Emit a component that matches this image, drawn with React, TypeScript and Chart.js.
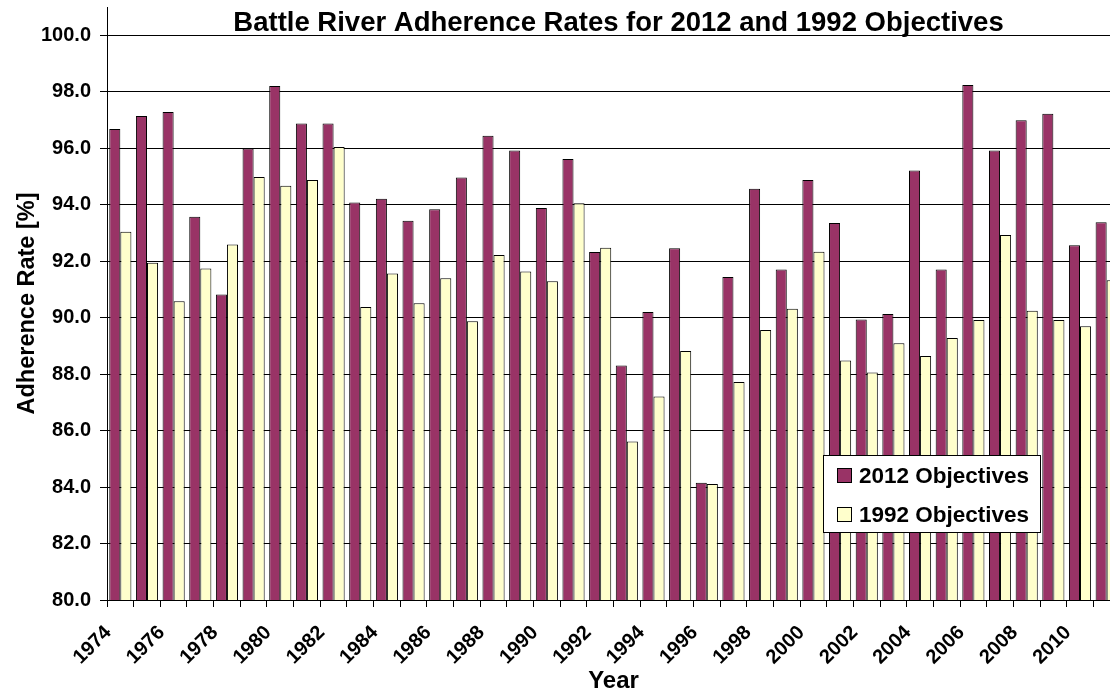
import React, { useEffect, useRef } from 'react';
import { Chart, registerables } from 'chart.js';

Chart.register(...registerables);

const FONT = '"Liberation Sans", Arial, Helvetica, sans-serif';

const chartTitle = 'Battle River Adherence Rates for 2012 and 1992 Objectives';
const xAxisTitle = 'Year';
const yAxisTitle = 'Adherence Rate [%]';

const years: string[] = [
  '1974', '1975', '1976', '1977', '1978', '1979', '1980', '1981', '1982', '1983',
  '1984', '1985', '1986', '1987', '1988', '1989', '1990', '1991', '1992', '1993',
  '1994', '1995', '1996', '1997', '1998', '1999', '2000', '2001', '2002', '2003',
  '2004', '2005', '2006', '2007', '2008', '2009', '2010', '2011',
];

const objectives2012: number[] = [
  96.68, 97.14, 97.28, 93.57, 90.82, 95.99, 98.2, 96.87, 96.87, 94.08,
  94.21, 93.43, 93.84, 94.96, 96.44, 95.92, 93.88, 95.62, 92.32, 88.3,
  90.2, 92.46, 84.15, 91.44, 94.56, 91.7, 94.87, 93.35, 89.93, 90.13,
  95.21, 91.7, 98.24, 95.92, 96.99, 97.22, 92.56, 93.38,
];

const objectives1992: number[] = [
  93.04, 91.94, 90.58, 91.74, 92.59, 94.98, 94.67, 94.87, 96.04, 90.38,
  91.56, 90.51, 91.39, 89.87, 92.22, 91.63, 91.29, 94.05, 92.47, 85.61,
  87.21, 88.82, 84.11, 87.72, 89.56, 90.31, 92.33, 88.48, 88.06, 89.09,
  88.64, 89.28, 89.92, 92.93, 90.24, 89.92, 89.69, 91.32,
];

const seriesNames = ['2012 Objectives', '1992 Objectives'];
const seriesColors = ['#993366', '#FFFFCC'];

const yMin = 80;
const yMax = 101;
const yStep = 2;

export default function App() {
  const ref = useRef<HTMLCanvasElement>(null);

  useEffect(() => {
    const canvas = ref.current;
    if (!canvas) return;

    const titlePlugin = {
      id: 'customTitle',
      afterDraw(chart: any) {
        const { ctx, chartArea } = chart;
        ctx.save();
        ctx.font = `bold 27.5px ${FONT}`;
        ctx.fillStyle = '#000';
        ctx.textAlign = 'center';
        ctx.textBaseline = 'alphabetic';
        ctx.fillText(chartTitle, (chartArea.left + chartArea.right) / 2 + 5, 31);
        ctx.restore();
      },
    };

    const legendPlugin = {
      id: 'boxLegend',
      afterDatasetsDraw(chart: any) {
        const { ctx } = chart;
        const bx = 823.5, by = 455.5, bw = 217, bh = 77;
        ctx.save();
        ctx.fillStyle = '#fff';
        ctx.fillRect(bx, by, bw, bh);
        ctx.strokeStyle = '#000';
        ctx.lineWidth = 1;
        ctx.strokeRect(bx, by, bw, bh);
        ctx.font = `bold 22.5px ${FONT}`;
        ctx.textAlign = 'left';
        ctx.textBaseline = 'middle';
        chart.data.datasets.forEach((ds: any, i: number) => {
          const cy = by + 20 + i * 39;
          ctx.fillStyle = ds.backgroundColor;
          ctx.fillRect(837.5, cy - 7, 14, 14);
          ctx.strokeRect(837.5, cy - 7, 14, 14);
          ctx.fillStyle = '#000';
          ctx.fillText(ds.label, 859, cy + 1);
        });
        ctx.restore();
      },
    };

    const chart = new Chart(canvas, {
      type: 'bar',
      data: {
        labels: years,
        datasets: [
          {
            label: seriesNames[0],
            data: objectives2012,
            backgroundColor: seriesColors[0],
            borderColor: '#000',
            borderWidth: 1,
            categoryPercentage: 0.83,
            barPercentage: 1.0,
          },
          {
            label: seriesNames[1],
            data: objectives1992,
            backgroundColor: seriesColors[1],
            borderColor: '#000',
            borderWidth: 1,
            categoryPercentage: 0.83,
            barPercentage: 1.0,
          },
        ],
      },
      options: {
        responsive: false,
        animation: false,
        devicePixelRatio: 1,
        layout: { padding: { top: 7, right: 10, left: 0, bottom: 0 } },
        plugins: {
          legend: { display: false },
          title: { display: false },
          tooltip: { enabled: false },
        },
        scales: {
          x: {
            type: 'category',
            offset: true,
            grid: {
              offset: true,
              drawOnChartArea: false,
              drawTicks: true,
              tickLength: 7,
              color: '#000',
              lineWidth: 1,
            },
            border: { display: true, color: '#000', width: 1 },
            ticks: {
              autoSkip: false,
              maxRotation: 45,
              minRotation: 45,
              color: '#000',
              padding: 14,
              labelOffset: -12,
              font: { family: FONT, size: 20, weight: 'bold' },
              callback: (_v: any, i: number) => (i % 2 === 0 ? years[i] : ''),
            },
            title: {
              display: true,
              text: xAxisTitle,
              color: '#000',
              font: { family: FONT, size: 24, weight: 'bold' },
              padding: { top: 0, bottom: 2 },
            },
            afterFit: (s: any) => {
              s.height = 98;
              s.paddingLeft = 0;
              s.paddingRight = 0;
            },
          },
          y: {
            min: yMin,
            max: yMax,
            grid: { color: '#000', lineWidth: 1, tickLength: 7, drawTicks: true },
            border: { display: true, color: '#000', width: 1 },
            ticks: {
              stepSize: yStep,
              includeBounds: false,
              color: '#000',
              padding: 9,
              font: { family: FONT, size: 20, weight: 'bold' },
              callback: (v: any) => Number(v).toFixed(1),
            },
            title: {
              display: true,
              text: yAxisTitle,
              color: '#000',
              font: { family: FONT, size: 23.5, weight: 'bold' },
              padding: { top: 13, bottom: 0 },
            },
            afterFit: (s: any) => {
              s.width = 107;
              s.paddingTop = 0;
              s.paddingBottom = 0;
            },
          },
        },
      },
      plugins: [titlePlugin, legendPlugin],
    } as any);

    return () => chart.destroy();
  }, []);

  return (
    <div
      style={{
        position: 'absolute',
        left: 0,
        top: 0,
        width: 1110,
        height: 698,
        overflow: 'hidden',
        background: '#fff',
      }}
    >
      <canvas ref={ref} width={1130} height={698} style={{ display: 'block' }} />
    </div>
  );
}
